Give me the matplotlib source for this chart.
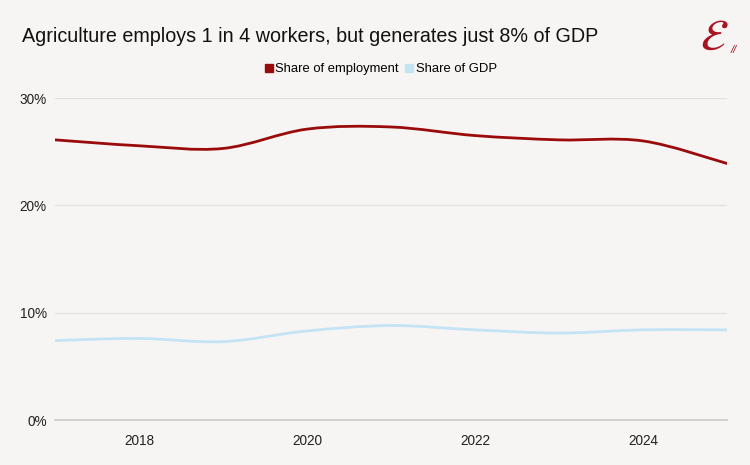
import matplotlib
matplotlib.use("Agg")
import matplotlib.pyplot as plt
from matplotlib.path import Path
from matplotlib.patches import PathPatch
from matplotlib.lines import Line2D
from matplotlib.ticker import FuncFormatter

plt.rcParams['font.family'] = ['Liberation Sans', 'DejaVu Sans']

# data
years = [2017, 2018, 2019, 2020, 2021, 2022, 2023, 2024, 2025]
employment = [26.1, 25.55, 25.3, 27.1, 27.3, 26.5, 26.1, 26.0, 23.9]
gdp = [7.4, 7.6, 7.3, 8.3, 8.8, 8.4, 8.1, 8.4, 8.4]
series_names = ['Share of employment', 'Share of GDP']
colors = ['#9a0c0c', '#c4e4f5']
title = 'Agriculture employs 1 in 4 workers, but generates just 8% of GDP'
bg = '#f7f5f3'


def smooth_path(xs, ys):
    # cubic bezier through the points (excel-like smoothed line)
    pts = list(zip(xs, ys))
    verts = [pts[0]]
    codes = [Path.MOVETO]
    n = len(pts)
    for i in range(n - 1):
        p0 = pts[i - 1] if i > 0 else pts[i]
        p1 = pts[i]
        p2 = pts[i + 1]
        p3 = pts[i + 2] if i + 2 < n else pts[i + 1]
        c1 = (p1[0] + (p2[0] - p0[0]) / 6, p1[1] + (p2[1] - p0[1]) / 6)
        c2 = (p2[0] - (p3[0] - p1[0]) / 6, p2[1] - (p3[1] - p1[1]) / 6)
        verts += [c1, c2, p2]
        codes += [Path.CURVE4] * 3
    return Path(verts, codes)


fig = plt.figure(figsize=(7.5, 4.65), dpi=100, facecolor=bg)
ax = fig.add_axes([55 / 750, 45 / 465, 672 / 750, 322 / 465])
ax.set_facecolor(bg)

for vals, c in zip([employment, gdp], colors):
    ax.add_patch(PathPatch(smooth_path(years, vals), facecolor='none',
                           edgecolor=c, lw=2.0, capstyle='round'))

ax.set_xlim(2017, 2025)
ax.set_ylim(0, 30)
ax.set_yticks([0, 10, 20, 30])
ax.yaxis.set_major_formatter(FuncFormatter(lambda v, p: f'{v:.0f}%'))
ax.set_xticks([2018, 2020, 2022, 2024])
ax.grid(axis='y', color='#e4e2e0', lw=0.9)
ax.axhline(0, color='#c8c8c8', lw=1.2, clip_on=False)
ax.set_axisbelow(True)
for s in ax.spines.values():
    s.set_visible(False)
ax.tick_params(length=0, labelsize=9.8, labelcolor='#222222')
ax.tick_params(axis='y', pad=6)
ax.tick_params(axis='x', pad=10)

fig.text(22 / 750, 1 - 36 / 465, title, fontsize=14.2, color='#111111',
         va='center', ha='left')

handles = [Line2D([], [], marker='s', ls='none', color=c, markersize=6)
           for c in colors]
fig.legend(handles, series_names, loc='center', bbox_to_anchor=(0.506, 1 - 69 / 465),
           ncol=2, frameon=False, fontsize=9.4, handletextpad=0.0,
           columnspacing=0.3, handlelength=1.0)

# logo
fig.text(714 / 750, 1 - 38 / 465, r'$\mathcal{E}$', fontsize=32, color='#a81422',
         ha='center', va='center')
fig.text(734 / 750, 1 - 50 / 465, '//', fontsize=8, color='#a81422',
         ha='center', va='center', style='italic')

fig.savefig('out.png', dpi=100, facecolor=bg)
